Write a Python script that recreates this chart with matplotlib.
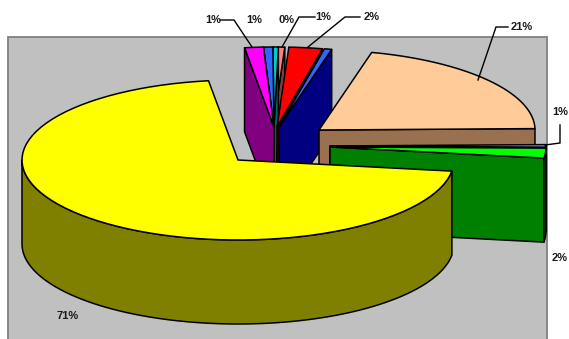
import numpy as np
import matplotlib
matplotlib.use("Agg")
import matplotlib.pyplot as plt
from matplotlib.patches import Polygon, Rectangle

plt.rcParams['font.family'] = ['Liberation Sans', 'DejaVu Sans']

# --- data (percent, counter-clockwise from the start angle) ---
slice_names = ["green", "lavender", "tan", "navy", "red", "salmon", "teal", "blue", "magenta", "yellow"]
slice_values = [2.0, 0.5, 20.8, 0.55, 2.5, 0.55, 0.4, 0.7, 1.4, 70.6]
label_texts = ["71%", "2%", "1%", "21%", "2%", "1%", "0%", "1%", "1%"]

# --- styles ---
top_colors = ["#00FF00", "#CC99FF", "#FFCC99", "#3366FF", "#FF0000", "#FF8080", "#00CCCC", "#3366FF", "#FF00FF", "#FFFF00"]
side_colors = ["#008000", "#660066", "#997050", "#000080", "#800000", "#804040", "#006666", "#1A3380", "#800080", "#808000"]
explode_dx = [92, 92, 81, 41, 39, 35, 36, 36, 36, 0]
explode_dy = [-13, -14, -30, -33, -33, -33, -33, -33, -33, 0]
draw_order = ["salmon", "teal", "blue", "magenta", "red", "navy", "tan", "lavender", "green", "yellow"]

START_ANGLE = -8.0
CX, CY, RX, RY, DEPTH = 238, 160, 216, 80, 84

label_pos = [(68, 316), (560, 258), (560, 112), (522, 27), (372, 17), (323, 17), (287, 20), (254, 20), (213, 20)]
leaders = [
    [(508, 27), (496, 27), (478, 80)],
    [(560, 125), (560, 143), (545, 145)],
    [(220, 20), (234, 20), (252, 47)],
    [(315, 17), (299, 17), (282, 47)],
    [(360, 17), (345, 17), (308, 47)],
]

fig = plt.figure(figsize=(5.69, 3.39), dpi=100)
ax = fig.add_axes([0, 0, 1, 1])
ax.set_xlim(0, 569)
ax.set_ylim(339, 0)
ax.axis("off")
ax.add_patch(Rectangle((8, 37), 539, 310, facecolor="#C0C0C0", edgecolor="#808080", lw=1.3))


def arc(cx, cy, a, b, n=80):
    t = np.radians(np.linspace(a, b, n))
    return np.column_stack([cx + RX * np.cos(t), cy - RY * np.sin(t)])


def poly(pts, color):
    ax.add_patch(Polygon(pts, closed=True, facecolor=color, edgecolor="black", lw=1.1, joinstyle="round"))


edges = START_ANGLE + np.concatenate([[0], np.cumsum(slice_values)]) * 3.6
spans = {n: (edges[i], edges[i + 1], i) for i, n in enumerate(slice_names)}

for name in draw_order:
    a, b, i = spans[name]
    cx, cy = CX + explode_dx[i], CY + explode_dy[i]
    side = side_colors[i]
    down = np.array([0, DEPTH])
    centre = np.array([cx, cy])
    # cut faces
    if np.sin(np.radians(a - 90)) < 0:
        p = arc(cx, cy, a, a, 1)[0]
        poly([centre, p, p + down, centre + down], side)
    if np.sin(np.radians(b + 90)) < 0:
        p = arc(cx, cy, b, b, 1)[0]
        poly([centre, p, p + down, centre + down], side)
    # outer wall on the front half
    for lo, hi in [(a, b), (a + 360, b + 360)]:
        w0, w1 = max(lo, 180), min(hi, 360)
        if w1 > w0:
            rim = arc(cx, cy, w0, w1)
            poly(np.vstack([rim, (rim + down)[::-1]]), side)
    # top face
    poly(np.vstack([[centre], arc(cx, cy, a, b)]), top_colors[i])

for pts in leaders:
    xs, ys = zip(*pts)
    ax.plot(xs, ys, color="black", lw=1.0, solid_joinstyle="miter")

for txt, (x, y) in zip(label_texts, label_pos):
    ax.text(x, y, txt, ha="center", va="center", fontsize=8, fontweight="bold", color="#1a1a1a", clip_on=False)

fig.savefig("out.png", dpi=100)
